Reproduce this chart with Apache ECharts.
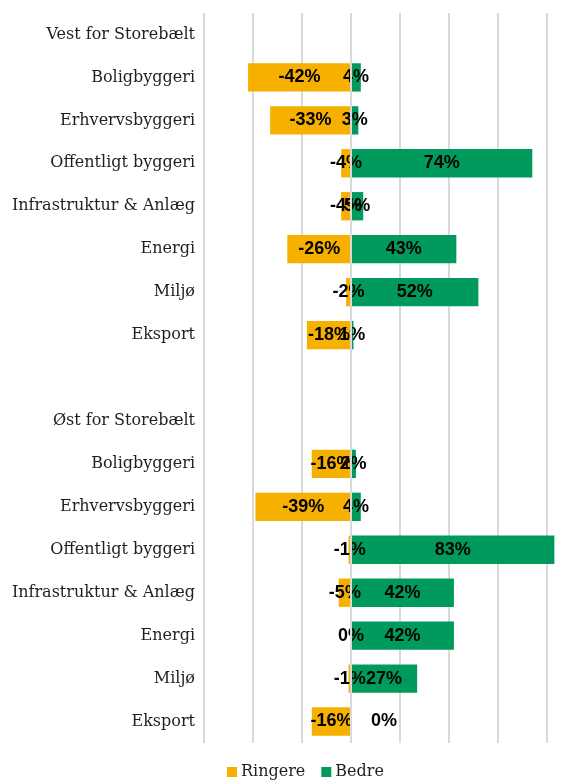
<!DOCTYPE html>
<html>
<head>
<meta charset="utf-8">
<script src="https://cdn.jsdelivr.net/npm/echarts@6/dist/echarts.min.js"></script>
<style>
  html, body { margin: 0; padding: 0; background: #fff; }
  #chart { width: 584px; height: 780px; }
</style>
</head>
<body>
<div id="chart"></div>
<script>
// kategorier (øverst -> nederst), tomme rækker til overskrifter
const categories = [
  'Vest for Storebælt', 'Boligbyggeri', 'Erhvervsbyggeri', 'Offentligt byggeri',
  'Infrastruktur & Anlæg', 'Energi', 'Miljø', 'Eksport', '',
  'Øst for Storebælt', 'Boligbyggeri', 'Erhvervsbyggeri', 'Offentligt byggeri',
  'Infrastruktur & Anlæg', 'Energi', 'Miljø', 'Eksport'
]
const ringere = [null, -42, -33, -4, -4, -26, -2, -18, null, null, -16, -39, -1, -5, 0, -1, -16]
const bedre   = [null, 4, 3, 74, 5, 43, 52, 1, null, null, 2, 4, 83, 42, 42, 27, 0]
const xTicks = { min: -60, max: 80, step: 20 }

const serif = "'DejaVu Serif', serif"

const chart = echarts.init(document.getElementById('chart'))

const labelStyle = {
  show: true,
  position: 'inside',
  color: '#000',
  fontFamily: 'Liberation Sans',
  fontWeight: 'bold',
  fontSize: 18,
  formatter: p => p.value + '%'
}

const option = {
  animation: false,
  legend: {
    data: ['Ringere', 'Bedre'],
    top: 759,
    left: 222,
    icon: 'rect',
    itemWidth: 10,
    itemHeight: 10,
    itemGap: 16,
    textStyle: { fontFamily: serif, fontSize: 16, color: '#1f1f1f', padding: [0, 0, 0, -1] }
  },
  grid: { left: 204, right: 37, top: 13, bottom: 37, containLabel: false },
  xAxis: {
    type: 'value',
    min: xTicks.min,
    max: xTicks.max,
    interval: xTicks.step,
    axisLabel: { show: false },
    axisLine: { show: false },
    axisTick: { show: false },
    splitLine: { lineStyle: { color: '#d9d9d9', width: 2 } }
  },
  yAxis: {
    type: 'category',
    inverse: true,
    data: categories,
    axisLine: { show: false },
    axisTick: { show: false },
    axisLabel: { color: '#1f1f1f', fontFamily: serif, fontSize: 16, margin: 9 }
  },
  series: [
    {
      name: 'Ringere',
      type: 'bar',
      barGap: '-100%',
      barCategoryGap: '34%',
      clip: false,
      data: ringere,
      itemStyle: { color: '#F5B000' },
      label: labelStyle
    },
    {
      name: 'Bedre',
      type: 'bar',
      barGap: '-100%',
      barCategoryGap: '34%',
      clip: false,
      // 0%-etiketten står lidt til højre i originalen
      data: bedre.map(v => v === 0 ? { value: v, label: { offset: [33, 0] } } : v),
      itemStyle: { color: '#009B5C' },
      label: labelStyle,
      markLine: {
        silent: true,
        symbol: 'none',
        label: { show: false },
        lineStyle: { color: '#d9d9d9', width: 2, type: 'solid' },
        data: [{ xAxis: 0 }]
      }
    }
  ]
}

chart.setOption(option)
</script>
</body>
</html>
